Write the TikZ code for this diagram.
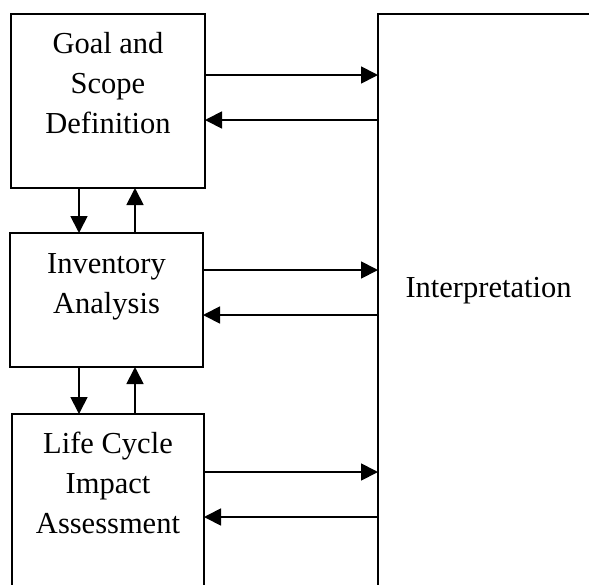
\documentclass[tikz,border=0pt]{standalone}
\usepackage{fontspec}
\setmainfont{Liberation Serif}
\usetikzlibrary{arrows.meta}
\begin{document}
\begin{tikzpicture}[x=1pt,y=-1pt,
  box/.style={draw,line width=1.8pt,inner sep=0pt,outer sep=0pt,anchor=north west},
  lbl/.style={anchor=base,inner sep=0pt,font=\fontsize{30.5}{40}\selectfont},
  arr/.style={line width=1.8pt,-{Triangle[length=17pt,width=17pt]}}]
\useasboundingbox (0,0) rectangle (589,584);
\clip (0,0) rectangle (589,584);
\fill[white] (0,0) rectangle (589,584);
\node[box,minimum width=194pt,minimum height=174pt] (g) at (11,14) {};
\node[box,minimum width=193pt,minimum height=134pt] (v) at (10,233) {};
\node[box,minimum width=192pt,minimum height=190pt] (c) at (12,414) {};
\node[box,minimum width=240pt,minimum height=600pt] (I) at (378,14) {};
\node[lbl] (g1) at (108,53) {Goal and};
\node[lbl] (g2) at (108,93) {Scope};
\node[lbl] (g3) at (108,133) {Definition};
\node[lbl] (v1) at (106.5,273) {Inventory};
\node[lbl] (v2) at (106.5,313) {Analysis};
\node[lbl] (c1) at (108,453) {Life Cycle};
\node[lbl] (c2) at (108,493) {Impact};
\node[lbl] (c3) at (108,533) {Assessment};
\node[lbl] (it) at (488.5,297) {Interpretation};
\draw[arr] (g.east|-0,75) -- (I.west|-0,75);
\draw[arr] (I.west|-0,120) -- (g.east|-0,120);
\draw[arr] (v.east|-0,270) -- (I.west|-0,270);
\draw[arr] (I.west|-0,315) -- (v.east|-0,315);
\draw[arr] (c.east|-0,472) -- (I.west|-0,472);
\draw[arr] (I.west|-0,517) -- (c.east|-0,517);
\draw[arr] (g.south-|79,0) -- (v.north-|79,0);
\draw[arr] (v.north-|135,0) -- (g.south-|135,0);
\draw[arr] (v.south-|79,0) -- (c.north-|79,0);
\draw[arr] (c.north-|135,0) -- (v.south-|135,0);
\end{tikzpicture}
\end{document}
